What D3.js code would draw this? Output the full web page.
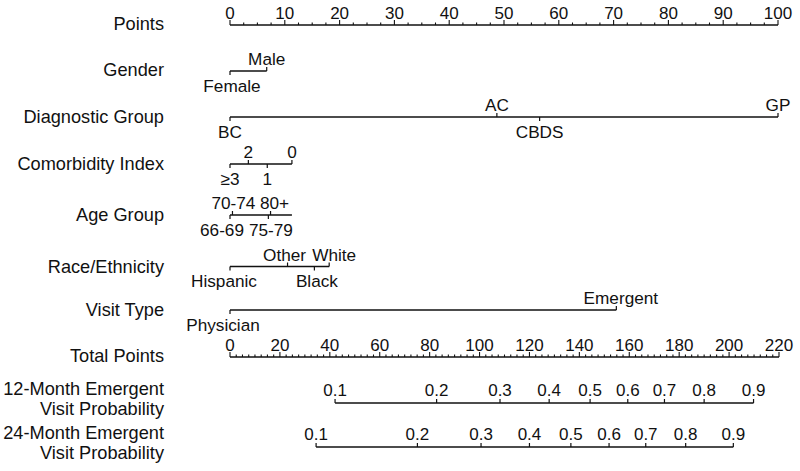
<!DOCTYPE html>
<html>
<head>
<meta charset="utf-8">
<script src="https://cdn.jsdelivr.net/npm/d3@7"></script>
<style>
  body { margin: 0; background: #fff; }
  svg text { font-family: Arial, "Liberation Sans", sans-serif; fill: #111; }
</style>
</head>
<body>
<svg id="chart" width="800" height="471"></svg>
<script>
'use strict';

// points (0-100) for every level
var genderLevels = ["Female", "Male"];
var genderPoints = [0, 6.7];

var diagLevels = ["BC", "AC", "CBDS", "GP"];
var diagPoints = [0, 48.7, 56.5, 100];

var comorbLevels = ["\u22653", "2", "1", "0"];
var comorbPoints = [0, 3.35, 6.8, 11.3];

var ageLevels = ["66-69", "70-74", "75-79", "80+"];
var agePoints = [0, 0.45, 7.0, 7.4];
var ageSpan = 11.3;

var raceLevels = ["Hispanic", "Other", "Black", "White"];
var racePoints = [0, 10.5, 15.4, 18.1];

var visitLevels = ["Physician", "Emergent"];
var visitPoints = [0, 70.5];

// probability ticks, placed in total points
var probLabels = ["0.1", "0.2", "0.3", "0.4", "0.5", "0.6", "0.7", "0.8", "0.9"];
var prob12Total = [42.1, 82.8, 108.2, 127.9, 144.3, 159.4, 174.1, 190.0, 209.8];
var prob24Total = [34.5, 75.1, 100.6, 120.0, 136.6, 151.9, 166.6, 182.6, 201.7];

var pointsTicks = d3.range(0, 101, 10);
var totalTicks = d3.range(0, 221, 20);

var svg = d3.select("#chart");
var rowFs = 18.2, tickFs = 17, levelFs = 17.2;
var ink = "#111";

var xPts = d3.scaleLinear().domain([0, 100]).range([230, 778]);
var xTot = d3.scaleLinear().domain([0, 220]).range([230, 779]);

function rowLabel(lines, y) {
  var t = svg.append("text")
    .attr("text-anchor", "end")
    .attr("font-size", rowFs);
  if (lines.length === 1) {
    t.attr("x", 164).attr("y", y + 6).text(lines[0]);
    return;
  }
  lines.forEach(function(l, i) {
    t.append("tspan").attr("x", 164).attr("y", y - 8 + i * 20).text(l);
  });
}

function numberAxis(scale, y, major, minorStep) {
  var g = svg.append("g");
  var dom = scale.domain();
  g.append("line")
    .attr("x1", scale(dom[0])).attr("x2", scale(dom[1]))
    .attr("y1", y).attr("y2", y)
    .attr("stroke", ink).attr("stroke-width", 1.4);
  var minor = d3.range(dom[0], dom[1] + 0.001, minorStep);
  g.selectAll("line.minor").data(minor).join("line")
    .attr("class", "minor")
    .attr("x1", scale).attr("x2", scale)
    .attr("y1", y).attr("y2", function(d) { return major.indexOf(d) >= 0 ? y - 5 : y - 2.5; })
    .attr("stroke", ink).attr("stroke-width", 1.1);
  g.selectAll("text").data(major).join("text")
    .attr("x", scale).attr("y", y - 6.5)
    .attr("text-anchor", "middle")
    .attr("font-size", tickFs)
    .text(function(d) { return d; });
}

// small horizontal shifts so neighbouring labels do not collide
var nudge = {
  "Female": 2, "Hispanic": -6, "Physician": -7,
  "66-69": -8, "70-74": 1, "75-79": 2.5, "80+": 4,
  "Other": -3, "Black": 2.5, "White": 5, "Emergent": 4.5
};

function levelAxis(levels, pts, y, span) {
  var g = svg.append("g");
  var items = levels.map(function(l, i) { return { label: l, p: pts[i] }; });
  items.sort(function(a, b) { return a.p - b.p; });
  var hi = span !== undefined ? span : d3.max(pts);
  g.append("line")
    .attr("x1", xPts(0)).attr("x2", xPts(hi))
    .attr("y1", y).attr("y2", y)
    .attr("stroke", ink).attr("stroke-width", 1.4);
  items.forEach(function(d, i) {
    var up = i % 2 === 1;
    var x = xPts(d.p);
    g.append("line")
      .attr("x1", x).attr("x2", x)
      .attr("y1", y).attr("y2", up ? y - 4 : y + 4)
      .attr("stroke", ink).attr("stroke-width", 1.2);
    g.append("text")
      .attr("x", x + (nudge[d.label] || 0))
      .attr("y", up ? y - 6 : y + 20.5)
      .attr("text-anchor", "middle")
      .attr("font-size", levelFs)
      .text(d.label);
  });
}

function probAxis(totals, y) {
  var g = svg.append("g");
  g.append("line")
    .attr("x1", xTot(d3.min(totals))).attr("x2", xTot(d3.max(totals)))
    .attr("y1", y).attr("y2", y)
    .attr("stroke", ink).attr("stroke-width", 1.4);
  totals.forEach(function(t, i) {
    g.append("line")
      .attr("x1", xTot(t)).attr("x2", xTot(t))
      .attr("y1", y).attr("y2", y - 4)
      .attr("stroke", ink).attr("stroke-width", 1.2);
    g.append("text")
      .attr("x", xTot(t)).attr("y", y - 7.5)
      .attr("text-anchor", "middle")
      .attr("font-size", tickFs)
      .text(probLabels[i]);
  });
}

rowLabel(["Points"], 24);
numberAxis(xPts, 25, pointsTicks, 2.5);

rowLabel(["Gender"], 70);
levelAxis(genderLevels, genderPoints, 71);

rowLabel(["Diagnostic Group"], 117);
levelAxis(diagLevels, diagPoints, 117);

rowLabel(["Comorbidity Index"], 164);
levelAxis(comorbLevels, comorbPoints, 164);

rowLabel(["Age Group"], 215);
levelAxis(ageLevels, agePoints, 215, ageSpan);

rowLabel(["Race/Ethnicity"], 266.5);
levelAxis(raceLevels, racePoints, 266.5);

rowLabel(["Visit Type"], 310);
levelAxis(visitLevels, visitPoints, 310);

rowLabel(["Total Points"], 356);
numberAxis(xTot, 357, totalTicks, 2.5);

rowLabel(["12-Month Emergent", "Visit Probability"], 403);
probAxis(prob12Total, 403);

rowLabel(["24-Month Emergent", "Visit Probability"], 447);
probAxis(prob24Total, 447);
</script>
</body>
</html>
